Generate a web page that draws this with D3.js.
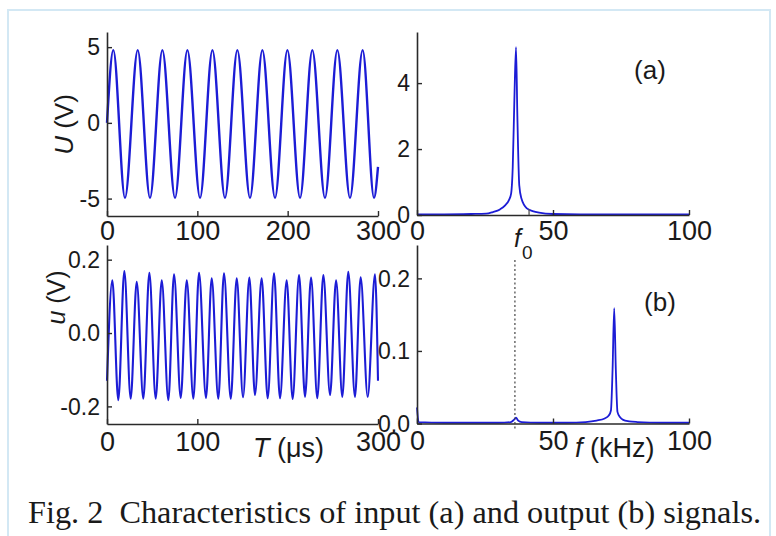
<!DOCTYPE html>
<html>
<head>
<meta charset="utf-8">
<script src="https://cdn.jsdelivr.net/npm/d3@7"></script>
<style>
  html, body { margin: 0; padding: 0; background: #ffffff; }
  svg { display: block; }
  text { font-family: "Liberation Sans", Arial, sans-serif; fill: #1a1a1a; }
</style>
</head>
<body>
<svg id="chart" width="776" height="536"></svg>
<script>
// ---------- data ----------
// (a) input signal: extrema of U(t), t in microseconds
const inputTimes  = [0, 7.0, 19.9, 34.0, 47.6, 61.3, 75.3, 89.0, 103.0, 116.7, 130.6, 144.3, 158.3, 172.0, 186.0, 199.7, 213.7, 227.3, 241.3, 255.0, 269.0, 283.0, 295.6, 300];
const inputValues = [0, 4.8, -4.95, 4.8, -4.95, 4.8, -4.95, 4.8, -4.95, 4.8, -4.95, 4.8, -4.95, 4.8, -4.95, 4.8, -4.95, 4.8, -4.95, 4.8, -4.95, 4.8, -4.95, -2.9];

// (a) input spectrum, f in kHz
const inputFreqs = [0, 10, 20, 25.4, 27.9, 30.5, 32.5, 33.8, 34.6, 35.2, 35.8, 36.4, 36.9, 37.6, 38.4, 40.4, 42.5, 44.9, 50, 60, 80, 100];
const inputAmps  = [0.02, 0.02, 0.03, 0.04, 0.09, 0.17, 0.3, 0.45, 0.65, 1.46, 3.5, 5.09, 3.0, 0.9, 0.5, 0.2, 0.12, 0.07, 0.03, 0.02, 0.02, 0.02];

// (b) output signal: extrema of u(t)
const outputTimes  = [0, 5.9, 12.5, 19.2, 26.2, 32.9, 40.2, 46.9, 53.9, 60.6, 67.9, 74.2, 81.6, 88.3, 95.6, 101.9, 109.6, 115.9, 123.2, 129.5, 137.0, 143.6, 150.6, 157.6, 163.8, 171.2, 177.9, 184.9, 191.5, 198.9, 205.5, 212.6, 219.2, 225.9, 232.8, 239.5, 246.9, 253.6, 260.5, 267.1, 274.5, 280.8, 288.6, 296.7, 300];
const outputValues = [-0.13, 0.144, -0.183, 0.169, -0.179, 0.140, -0.179, 0.164, -0.179, 0.144, -0.183, 0.160, -0.177, 0.144, -0.179, 0.164, -0.177, 0.149, -0.179, 0.163, -0.179, 0.149, -0.175, 0.151, -0.169, 0.149, -0.178, 0.163, -0.178, 0.144, -0.180, 0.158, -0.174, 0.151, -0.178, 0.158, -0.169, 0.144, -0.174, 0.167, -0.174, 0.152, -0.174, 0.160, -0.13];

// (b) output spectrum
const outputFreqs = [0, 0.6, 10, 20, 30, 34.5, 35.6, 36.4, 37.2, 38.5, 45, 55, 62, 66, 69, 70.5, 71.3, 71.9, 72.5, 73.1, 73.7, 74.6, 75.8, 78, 81, 90, 100];
const outputAmps  = [0.022, 0.002, 0.001, 0.001, 0.001, 0.002, 0.005, 0.008, 0.004, 0.002, 0.001, 0.001, 0.002, 0.004, 0.007, 0.011, 0.018, 0.074, 0.159, 0.074, 0.016, 0.009, 0.005, 0.003, 0.002, 0.001, 0.001];

const timeTicksA = [0, 100, 200, 300];
const timeTicksB = [0, 100, 300];
const freqTicks = [0, 50, 100];
const uTicks = [-5, 0, 5];
const ampTicksA = [0, 2, 4];
const uSmallTicks = [-0.2, 0.0, 0.2];
const ampTicksB = [0.0, 0.1, 0.2];
const f0Value = 36.0;
const captionText = "Fig. 2  Characteristics of input (a) and output (b) signals.";

// ---------- drawing ----------
const svg = d3.select("#chart");
const BLUE = "#1c1cd6";
const AXIS = "#2a2a2a";

// light-blue frame
svg.append("rect").attr("x", 8).attr("y", 10).attr("width", 762).attr("height", 540)
  .attr("fill", "none").attr("stroke", "#d3e8f4").attr("stroke-width", 2);

function panel(opts) {
  const x = d3.scaleLinear().domain(opts.xDomain).range(opts.xRange);
  const y = d3.scaleLinear().domain(opts.yDomain).range(opts.yRange);
  const g = svg.append("g");

  const line = d3.line().x(d => x(d[0])).y(d => y(d[1])).curve(d3.curveMonotoneX);
  g.append("path").datum(d3.zip(opts.xs, opts.ys))
    .attr("d", line).attr("fill", "none").attr("stroke", BLUE)
    .attr("stroke-width", opts.lw).attr("stroke-linejoin", "round");

  const xa = g.append("g").attr("transform", `translate(0,${opts.yRange[0]})`)
    .call(d3.axisBottom(x).tickValues(opts.xTicks).tickFormat(d3.format("d"))
      .tickSizeInner(-5).tickSizeOuter(0).tickPadding(opts.xPad));
  const ya = g.append("g").attr("transform", `translate(${opts.xRange[0]},0)`)
    .call(d3.axisLeft(y).tickValues(opts.yTicks).tickFormat(opts.yFormat)
      .tickSizeInner(-5).tickSizeOuter(0).tickPadding(7));
  [xa, ya].forEach(a => {
    a.select(".domain").attr("stroke", AXIS).attr("stroke-width", 1.6);
    a.selectAll(".tick line").attr("stroke", AXIS).attr("stroke-width", 1.4);
    a.selectAll("text").attr("fill", "#1a1a1a")
      .style("font-family", '"Liberation Sans", Arial, sans-serif');
  });
  xa.selectAll("text").style("font-size", "27px");
  ya.selectAll("text").style("font-size", "23px").attr("dy", "0.34em");
  return { x, y, g };
}

const fmtInt = d3.format("d");
const fmtMinus = d => (d < 0 ? "-" : "") + d3.format(".1f")(Math.abs(d));

// (a) time signal
panel({ xs: inputTimes, ys: inputValues, xDomain: [0, 300], xRange: [107, 378],
  yDomain: [-6.15, 6.0], yRange: [216, 32], xTicks: timeTicksA, yTicks: uTicks,
  yFormat: d => (d < 0 ? "-" : "") + Math.abs(d), xPad: 5, lw: 2.4 });

// (a) spectrum
const pa = panel({ xs: inputFreqs, ys: inputAmps, xDomain: [0, 100], xRange: [417, 689],
  yDomain: [0, 5.55], yRange: [215, 32], xTicks: freqTicks, yTicks: ampTicksA,
  yFormat: fmtInt, xPad: 6, lw: 1.8 });
// small extra tick mark on the axis near f0
pa.g.append("line").attr("x1", pa.x(41.2)).attr("x2", pa.x(41.2))
  .attr("y1", 215).attr("y2", 209).attr("stroke", "#555").attr("stroke-width", 1.3);

// (b) time signal
panel({ xs: outputTimes, ys: outputValues, xDomain: [0, 300], xRange: [107, 378],
  yDomain: [-0.248, 0.24], yRange: [424, 245], xTicks: timeTicksB, yTicks: uSmallTicks,
  yFormat: fmtMinus, xPad: 8, lw: 2.1 });

// (b) spectrum
const pb = panel({ xs: outputFreqs, ys: outputAmps, xDomain: [0, 100], xRange: [417, 689],
  yDomain: [0, 0.246], yRange: [423.5, 245], xTicks: freqTicks, yTicks: ampTicksB,
  yFormat: d3.format(".1f"), xPad: 7, lw: 1.8 });

// dotted f0 marker
pb.g.append("line").attr("x1", pb.x(f0Value)).attr("x2", pb.x(f0Value))
  .attr("y1", 260).attr("y2", 431).attr("stroke", "#444").attr("stroke-width", 1.2)
  .attr("stroke-dasharray", "2,2.5");

// panel letters
svg.append("text").attr("x", 650).attr("y", 79).attr("text-anchor", "middle")
  .style("font-size", "26px").text("(a)");
svg.append("text").attr("x", 660).attr("y", 311).attr("text-anchor", "middle")
  .style("font-size", "26px").text("(b)");

// f0 label
const f0t = svg.append("text").attr("x", 514).attr("y", 247).style("font-size", "25px");
f0t.append("tspan").style("font-style", "italic").text("f");
f0t.append("tspan").attr("dy", 12).attr("dx", 1).style("font-size", "19px").text("0");

// axis titles
function title(x, y, rot, italicPart, rest, size) {
  const t = svg.append("text").attr("transform", `translate(${x},${y}) rotate(${rot})`)
    .attr("text-anchor", rot ? "middle" : "start").style("font-size", size + "px")
    .style("white-space", "pre");
  t.append("tspan").style("font-style", "italic").text(italicPart);
  t.append("tspan").text(rest);
}
title(72.5, 124.5, -90, "U", " (V)", 26);
title(65, 297.5, -90, "u", " (V)", 25);
title(253, 457, 0, "T", " (\u03bcs)", 27);
title(575, 457, 0, "f", " (kHz)", 27);

// caption
svg.append("text").attr("x", 28).attr("y", 523)
  .attr("textLength", 733).attr("lengthAdjust", "spacingAndGlyphs")
  .style("font-family", '"Liberation Serif", "Times New Roman", serif')
  .style("font-size", "32px").style("white-space", "pre").attr("fill", "#111")
  .text(captionText);
</script>
</body>
</html>
